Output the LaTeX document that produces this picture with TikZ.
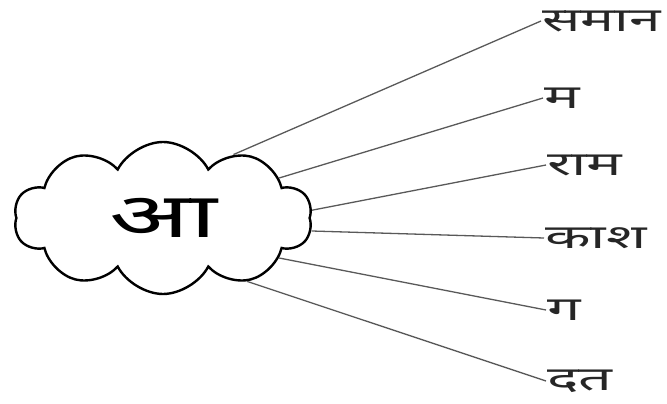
\documentclass[tikz,border=0pt]{standalone}
\usepackage{fontspec}
\newfontfamily\devfont[Script=Devanagari]{Noto Sans}
\usetikzlibrary{shapes.symbols, positioning}
\newcommand\widen[2]{\scalebox{#1}[1]{#2}}

\begin{document}
\begin{tikzpicture}[
    x=1pt, y=-1pt,
    bubble/.style={
        cloud,
        draw=black,
        line width=2.4pt,
        cloud puffs=10,
        cloud puff arc=125,
        aspect=1.9,
        minimum width=298pt,
        minimum height=152pt,
        inner sep=0pt,
        font=\devfont\fontsize{62}{70}\selectfont
    },
    word/.style={
        anchor=west,
        inner sep=1pt,
        text=black!85,
        font=\devfont\fontsize{33}{38}\selectfont
    },
    ray/.style={
        draw=black!65,
        line width=1.3pt
    }
]
\useasboundingbox (0,0) rectangle (667,404);

\node[bubble] (aa) at (163,218) {\widen{1.7}{आ}};

\node[word] (saman) at (541,21)  {\widen{1.72}{समान}};
\node[word] (ma)    at (543,98)  {\widen{1.8}{म}};
\node[word] (ram)   at (546,165) {\widen{1.8}{राम}};
\node[word] (kash)  at (544,238) {\widen{1.8}{काश}};
\node[word] (ga)    at (546,310) {\widen{1.8}{ग}};
\node[word] (dat)   at (546,381) {\widen{1.8}{दत}};

\draw[ray] (aa.42)  -- (saman.west);
\draw[ray] (aa.19)  -- (ma.west);
\draw[ray] (aa.3)   -- (ram.west);
\draw[ray] (aa.-5)  -- (kash.west);
\draw[ray] (aa.-19) -- (ga.west);
\draw[ray] (aa.-37) -- (dat.west);

\end{tikzpicture}
\end{document}
